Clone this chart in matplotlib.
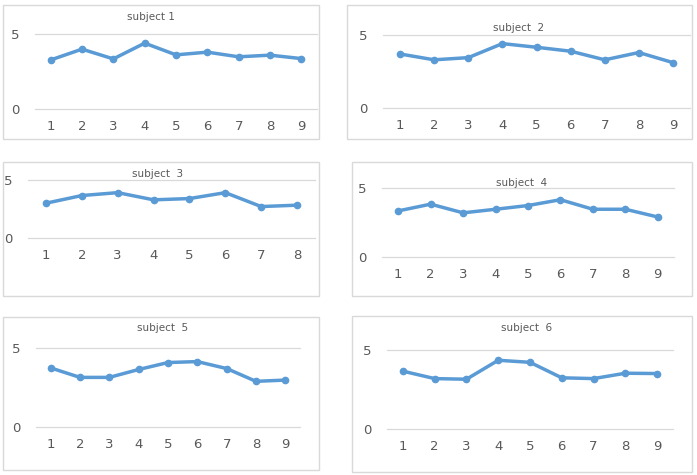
import matplotlib.pyplot as plt
from matplotlib.patches import Rectangle

W, H = 697, 475

# valores (um painel por subject)
titulos = ['subject 1', 'subject  2', 'subject  3', 'subject  4', 'subject  5', 'subject  6']
s1 = [3.27, 3.99, 3.34, 4.39, 3.61, 3.79, 3.48, 3.59, 3.36]
s2 = [3.70, 3.30, 3.45, 4.41, 4.16, 3.89, 3.30, 3.80, 3.11]
s3 = [3.00, 3.66, 3.91, 3.29, 3.40, 3.91, 2.71, 2.83]
s4 = [3.34, 3.83, 3.20, 3.46, 3.73, 4.15, 3.46, 3.46, 2.90]
s5 = [3.74, 3.14, 3.14, 3.64, 4.08, 4.14, 3.70, 2.89, 2.97]
s6 = [3.66, 3.19, 3.15, 4.35, 4.22, 3.24, 3.19, 3.53, 3.51]
series = [s1, s2, s3, s4, s5, s6]

# geometria em pixels: caixa (x0, y0, x1, y1), área do gráfico (x0, y5, x1, y0), título (x, y)
caixas = [(3, 5, 319, 139), (347, 5, 692, 139), (3, 162, 319, 296),
          (352, 162, 692, 296), (3, 317, 319, 470), (352, 316, 692, 472)]
areas = [(35, 34, 317, 109), (383, 35, 690, 108), (28, 180, 315, 238),
         (382, 188, 674, 257), (36, 348, 300, 427), (387, 350, 673, 429)]
pos_titulo = [(151, 17), (519, 28), (158, 174), (522, 183), (163, 328), (527, 328)]

AZUL = '#5b9bd5'
CINZA = '#595959'
GRADE = '#d9d9d9'

fig = plt.figure(figsize=(W / 100, H / 100), dpi=100)

for i, dados in enumerate(series):
    # moldura do gráfico
    bx0, by0, bx1, by1 = caixas[i]
    fig.patches.append(Rectangle((bx0 / W, 1 - by1 / H), (bx1 - bx0) / W, (by1 - by0) / H,
                                 transform=fig.transFigure, fill=False,
                                 edgecolor=GRADE, linewidth=1))

    ax0, ay5, ax1, ay0 = areas[i]
    ax = fig.add_axes([ax0 / W, 1 - ay0 / H, (ax1 - ax0) / W, (ay0 - ay5) / H])
    x = list(range(1, len(dados) + 1))
    ax.plot(x, dados, color=AZUL, linewidth=2.5, marker='o', markersize=4.5,
            clip_on=False, zorder=3)

    ax.set_xlim(0.5, len(dados) + 0.5)
    ax.set_ylim(0, 5)
    ax.set_xticks(x)
    ax.set_yticks([0, 5])
    ax.tick_params(length=0, labelsize=9.5, labelcolor=CINZA)
    ax.tick_params(axis='x', pad=8)
    ax.tick_params(axis='y', pad=11)
    for sp in ax.spines.values():
        sp.set_visible(False)
    # linhas de grade (sem recorte, para a linha do 0 aparecer inteira)
    ax.yaxis.grid(True, color=GRADE, linewidth=0.9)
    for linha in ax.get_ygridlines():
        linha.set_clip_on(False)
    ax.set_axisbelow(True)
    ax.patch.set_alpha(0)

    tx, ty = pos_titulo[i]
    fig.text(tx / W, 1 - ty / H, titulos[i], ha='center', va='center',
             fontsize=7.5, color=CINZA)

fig.savefig('out.png', dpi=100)
